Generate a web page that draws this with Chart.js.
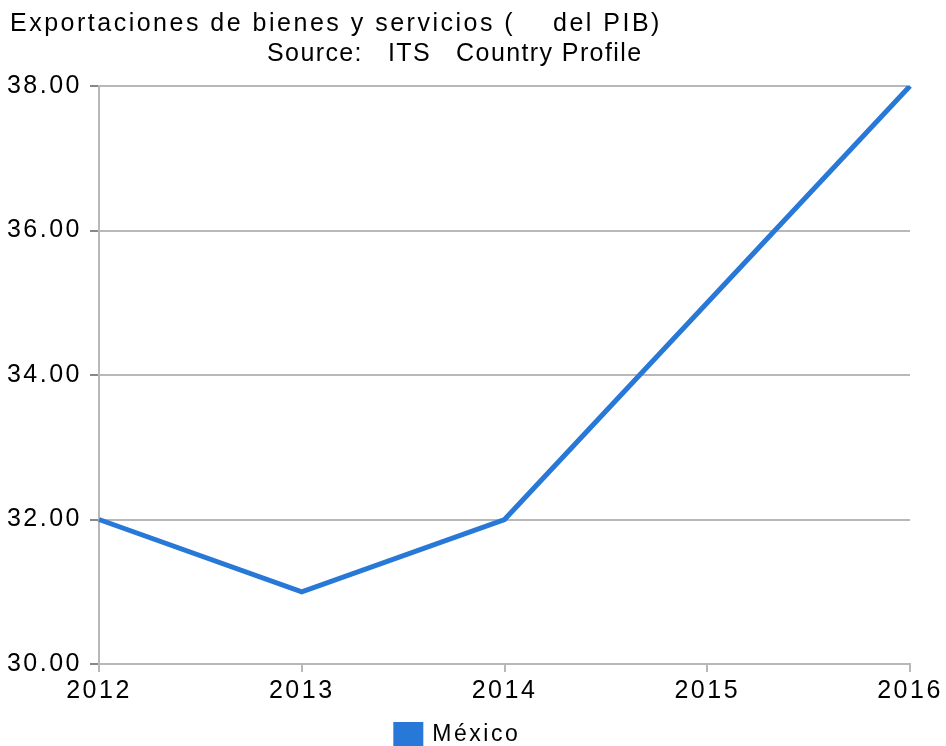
<!DOCTYPE html>
<html>
<head>
<meta charset="utf-8">
<script src="https://cdn.jsdelivr.net/npm/chart.js@4.4.1/dist/chart.umd.min.js"></script>
<style>
  html, body { margin:0; padding:0; background:#fff; }
  #wrap { width:946px; height:746px; position:relative; }
</style>
</head>
<body>
<div id="wrap"><canvas id="exportChart"></canvas></div>
<script>
// --- DATA ---
const years = ['2012', '2013', '2014', '2015', '2016'];
const mexicoValues = [32, 31, 32, 35, 38];
const titleLines = ['Exportaciones de bienes y servicios (    del PIB)', 'Source:   ITS   Country Profile'];
const seriesName = 'México';

// --- STYLE ---
const LINE_COLOR = '#2878d8';
const GRID_COLOR = '#b8b8b8';
const TICK_COLOR = '#888888';
const FONT = 'Liberation Sans, Arial, sans-serif';
const SPACING = '2.5px';

Chart.defaults.font.family = FONT;
Chart.defaults.color = '#000';

// wider letter spacing to mimic the stretched text of the original
const spacingPlugin = {
    id: 'spacing',
    beforeLayout(chart){ chart.ctx.letterSpacing = SPACING; },
    beforeDraw(chart){ chart.ctx.letterSpacing = SPACING; }
};

// push the legend down to the bottom edge
const legendShift = {
    id: 'legendShift',
    afterLayout(chart){
        const lg = chart.legend;
        if(!lg) return;
        lg.top += 10; lg.bottom += 10;
        lg.left += 3; lg.right += 3;
    }
};

const titlePlugin = {
    id: 'topTitle',
    afterDraw(chart){
        const ctx = chart.ctx;
        ctx.save();
        ctx.font = '25px ' + FONT;
        ctx.fillStyle = '#000';
        ctx.textBaseline = 'alphabetic';
        ctx.textAlign = 'left';
        ctx.letterSpacing = '2.5px';
        ctx.fillText(titleLines[0], 10, 31);
        ctx.letterSpacing = '1.4px';
        ctx.fillText(titleLines[1], 267, 61);
        ctx.restore();
    }
};

new Chart(document.getElementById('exportChart'), {
    type: 'line',
    data: {
        labels: years,
        datasets: [{
            label: seriesName,
            data: mexicoValues,
            borderColor: LINE_COLOR,
            backgroundColor: LINE_COLOR,
            borderWidth: 5,
            borderCapStyle: 'butt',
            pointRadius: 0,
            tension: 0
        }]
    },
    options: {
        responsive: true,
        maintainAspectRatio: false,
        animation: false,
        layout: { padding: { top: 86, right: 36, left: 0, bottom: 0 } },
        plugins: {
            tooltip: { enabled: false },
            legend: {
                position: 'bottom',
                labels: { boxWidth: 25, boxHeight: 21, padding: 1, font: { size: 23 }, color: '#000' }
            }
        },
        scales: {
            x: {
                offset: false,
                grid: { drawOnChartArea: false, drawTicks: true, tickLength: 8, color: GRID_COLOR, lineWidth: 2 },
                border: { display: true, color: GRID_COLOR, width: 2 },
                ticks: { font: { size: 25 }, color: '#000', padding: 4, maxRotation: 0 },
                afterFit: s => { s.height = 48; s.paddingRight = 36; }
            },
            y: {
                min: 30,
                max: 38,
                grid: { color: GRID_COLOR, lineWidth: 2, tickColor: TICK_COLOR, tickLength: 9 },
                border: { display: true, color: GRID_COLOR, width: 2 },
                ticks: { stepSize: 2, font: { size: 25 }, color: '#000', padding: 8, callback: v => v.toFixed(2) },
                afterFit: s => { s.width = 99; }
            }
        }
    },
    plugins: [spacingPlugin, legendShift, titlePlugin]
});
</script>
</body>
</html>
